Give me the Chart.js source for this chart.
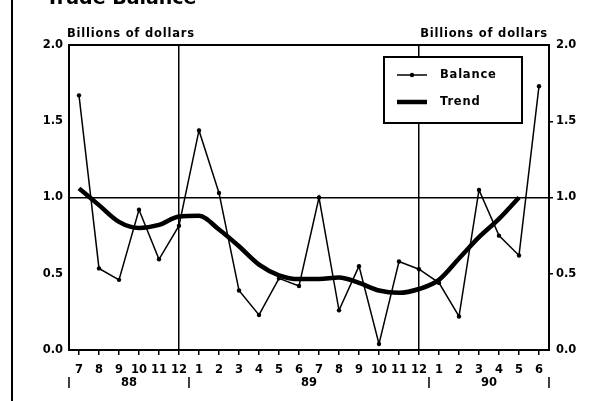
<!DOCTYPE html>
<html>
<head>
<meta charset="utf-8">
<script src="https://cdn.jsdelivr.net/npm/chart.js@4.4.0/dist/chart.umd.min.js"></script>
<style>
  html, body { margin: 0; padding: 0; background: #fff; }
  #wrap { width: 594px; height: 401px; }
</style>
</head>
<body>
<div id="wrap"><canvas id="tradeChart" width="594" height="401"></canvas></div>
<script>
// months Jul 88 .. Jun 90
var months = ['7', '8', '9', '10', '11', '12', '1', '2', '3', '4', '5', '6', '7', '8', '9', '10', '11', '12', '1', '2', '3', '4', '5', '6']
var years = ['88', '89', '90']
var yearSpans = [6, 12, 6]

var balance = [1.67, 0.535, 0.46, 0.92, 0.595, 0.815, 1.44, 1.03, 0.39, 0.23, 0.47, 0.42, 1.0, 0.26, 0.55, 0.04, 0.58, 0.53, 0.44, 0.22, 1.05, 0.75, 0.62, 1.73]
var trend = [1.06, 0.95, 0.84, 0.80, 0.82, 0.875, 0.88, 0.79, 0.68, 0.56, 0.49, 0.465, 0.465, 0.475, 0.44, 0.39, 0.375, 0.40, 0.46, 0.60, 0.74, 0.86, 1.0, null]

var yTicks = [0, 0.5, 1.0, 1.5, 2.0]

const FONT = '"DejaVu Sans", "Liberation Sans", sans-serif'

const decorations = {
  id: 'decorations',
  afterDraw(chart) {
    const c = chart.ctx
    const a = chart.chartArea
    const x = chart.scales.x
    c.save()
    c.fillStyle = '#000'
    c.strokeStyle = '#000'

    // page rule on the left
    c.lineWidth = 2
    c.beginPath()
    c.moveTo(12, 0)
    c.lineTo(12, 401)
    c.stroke()

    // title, cut off at the top
    c.font = 'bold 19px ' + FONT
    c.textAlign = 'left'
    c.textBaseline = 'alphabetic'
    c.fillText('Trade Balance', 46, 3.5)

    // unit labels
    c.font = 'bold 11.5px ' + FONT
    c.letterSpacing = '0.8px'
    c.textBaseline = 'alphabetic'
    c.textAlign = 'left'
    c.fillText('Billions of dollars', 67, 37)
    c.textAlign = 'right'
    c.fillText('Billions of dollars', 548, 37)
    c.letterSpacing = '0px'

    // frame
    c.lineWidth = 2
    c.strokeRect(a.left, a.top, a.right - a.left, a.bottom - a.top)

    // year row
    c.lineWidth = 1.5
    c.font = 'bold 11.5px ' + FONT
    c.textAlign = 'center'
    c.textBaseline = 'middle'
    let idx = 0
    let edges = [a.left]
    for (let i = 0; i < years.length; i++) {
      idx += yearSpans[i]
      if (idx < months.length)
        edges.push((x.getPixelForValue(idx - 1) + x.getPixelForValue(idx)) / 2)
      else
        edges.push(a.right)
    }
    edges.forEach(e => {
      c.beginPath()
      c.moveTo(e, 377)
      c.lineTo(e, 388)
      c.stroke()
    })
    for (let i = 0; i < years.length; i++) {
      c.fillText(years[i], (edges[i] + edges[i + 1]) / 2, 383)
    }

    // legend box
    const lx = 384, ly = 57, lw = 138, lh = 66
    c.fillStyle = '#fff'
    c.fillRect(lx, ly, lw, lh)
    c.lineWidth = 2
    c.strokeRect(lx, ly, lw, lh)
    c.fillStyle = '#000'
    c.lineWidth = 1.5
    c.beginPath()
    c.moveTo(397, 75)
    c.lineTo(427, 75)
    c.stroke()
    c.beginPath()
    c.arc(412, 75, 2.2, 0, Math.PI * 2)
    c.fill()
    c.lineWidth = 4.5
    c.beginPath()
    c.moveTo(397, 102)
    c.lineTo(427, 102)
    c.stroke()
    c.font = 'bold 11.5px ' + FONT
    c.letterSpacing = '0.8px'
    c.textAlign = 'left'
    c.textBaseline = 'middle'
    c.fillText('Balance', 440, 75)
    c.fillText('Trend', 440, 102)
    c.letterSpacing = '0px'

    c.restore()
  }
}

const ctx = document.getElementById('tradeChart')

const tradeChart = new Chart(ctx, {
  type: 'line',
  data: {
    labels: months,
    datasets: [{
      label: 'Trend',
      data: trend,
      borderColor: '#000',
      borderWidth: 4.5,
      pointRadius: 0,
      tension: 0.4,
      cubicInterpolationMode: 'monotone',
      spanGaps: false
    }, {
      label: 'Balance',
      data: balance,
      borderColor: '#000',
      borderWidth: 1.5,
      pointRadius: 2.2,
      pointBackgroundColor: '#000',
      pointBorderWidth: 0,
      tension: 0
    }]
  },
  options: {
    responsive: false,
    animation: false,
    layout: { padding: { top: 45, left: 0, right: 0, bottom: 0 } },
    plugins: {
      legend: { display: false },
      tooltip: { enabled: false }
    },
    scales: {
      x: {
        type: 'category',
        offset: true,
        afterFit: s => { s.height = 51 },
        border: { display: false },
        grid: {
          offset: false,
          color: c => (c.index === 5 || c.index === 17) ? '#000' : 'rgba(0,0,0,0)',
          lineWidth: 1.5,
          tickColor: '#000',
          tickWidth: 1.5,
          tickLength: 5
        },
        ticks: {
          color: '#000',
          font: { family: FONT, size: 11.5, weight: 'bold' },
          padding: 8,
          maxRotation: 0,
          autoSkip: false
        }
      },
      y: {
        position: 'left',
        min: 0,
        max: 2,
        afterFit: s => { s.width = 69 },
        afterBuildTicks: s => { s.ticks = yTicks.map(v => ({ value: v })) },
        border: { display: false },
        grid: {
          color: c => (c.tick && c.tick.value === 1) ? '#000' : 'rgba(0,0,0,0)',
          lineWidth: 1.5,
          drawTicks: false
        },
        ticks: {
          color: '#000',
          font: { family: FONT, size: 11.5, weight: 'bold' },
          padding: 6,
          callback: v => v.toFixed(1)
        }
      },
      y1: {
        position: 'right',
        min: 0,
        max: 2,
        afterFit: s => { s.width = 45 },
        afterBuildTicks: s => { s.ticks = yTicks.map(v => ({ value: v })) },
        border: { display: false },
        grid: {
          drawOnChartArea: false,
          color: c => (c.tick && c.tick.value > 0 && c.tick.value < 2) ? '#000' : 'rgba(0,0,0,0)',
          tickLength: 4,
          lineWidth: 1.5
        },
        ticks: {
          color: '#000',
          font: { family: FONT, size: 11.5, weight: 'bold' },
          padding: 3,
          callback: v => v.toFixed(1)
        }
      }
    }
  },
  plugins: [decorations]
})
</script>
</body>
</html>
